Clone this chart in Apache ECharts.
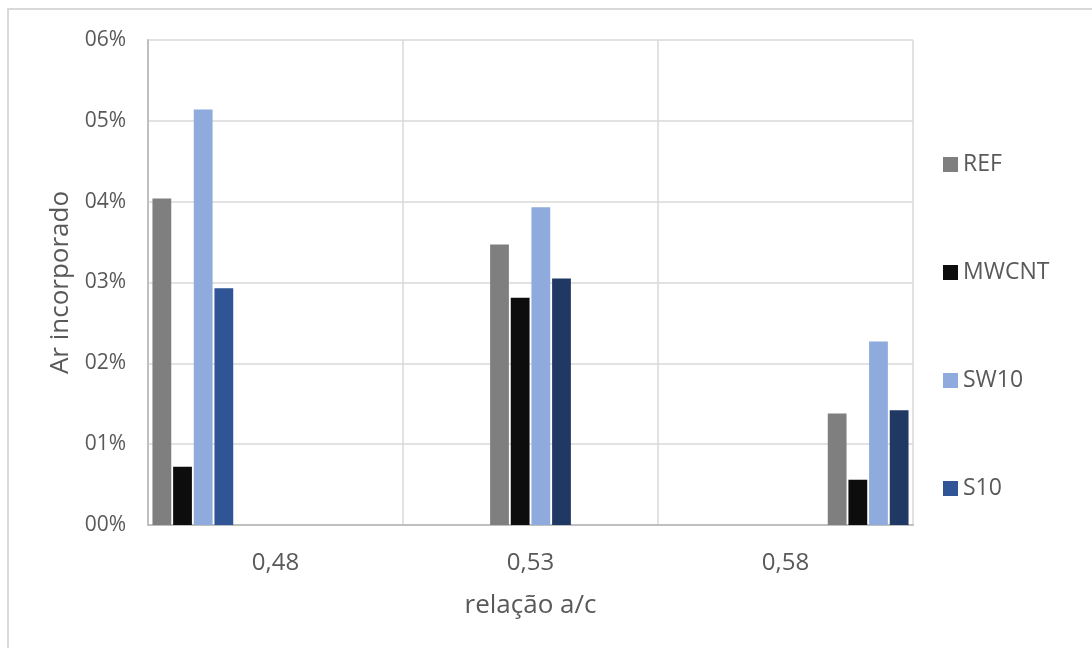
<!DOCTYPE html>
<html>
<head>
<meta charset="utf-8">
<script src="https://cdn.jsdelivr.net/npm/echarts@6/dist/echarts.min.js"></script>
<style>
html,body{margin:0;padding:0;background:#fff;}
#chart{width:1092px;height:648px;}
</style>
</head>
<body>
<div id="chart"></div>
<script>
// Data (values in %)
const categories = ['0,48', '0,53', '0,58'];
const seriesNames = ['REF', 'MWCNT', 'SW10', 'S10'];
const refValues = [4.04, 3.47, 1.38];
const mwcntValues = [0.72, 2.81, 0.56];
const sw10Values = [5.14, 3.93, 2.27];
const s10Values = [2.93, 3.05, 1.42];
const yTickLabels = ['00%', '01%', '02%', '03%', '04%', '05%', '06%'];

const allValues = [refValues, mwcntValues, sw10Values, s10Values];
const baseColors = ['#7F7F7F', '#0D0D0D', '#8FAADC', '#2F5597'];
const s10DarkColor = '#1F3864';
const textColor = '#595959';
const fontFamily = '"Open Sans", "Liberation Sans", sans-serif';

// Excel layout: each category holds 3 groups of 4 bars; only the group matching
// the category index has values.
const series = [];
for (let g = 0; g < categories.length; g++) {
  for (let s = 0; s < seriesNames.length; s++) {
    let color = baseColors[s];
    if (s === 3 && g > 0) color = s10DarkColor;
    series.push({
      type: 'bar',
      name: seriesNames[s],
      data: categories.map((c, i) => (i === g ? allValues[s][i] : '-')),
      itemStyle: { color: color },
      barCategoryGap: '3.5%',
      barGap: '10%',
      emphasis: { disabled: true },
      animation: false
    });
  }
}

const chart = echarts.init(document.getElementById('chart'));
chart.setOption({
  backgroundColor: '#ffffff',
  animation: false,
  textStyle: { fontFamily: fontFamily, color: textColor },
  graphic: [{
    type: 'rect',
    shape: { x: 8, y: 9, width: 1200, height: 1000 },
    style: { fill: 'none', stroke: '#D9D9D9', lineWidth: 2 },
    silent: true,
    z: -10
  }],
  grid: { left: 148, right: 179, top: 40, bottom: 123, containLabel: false },
  legend: {
    orient: 'vertical',
    left: 938,
    top: 148,
    icon: 'rect',
    itemWidth: 15,
    itemHeight: 15,
    itemGap: 85,
    data: seriesNames,
    textStyle: { fontFamily: fontFamily, color: textColor, fontSize: 23 },
    selectedMode: false
  },
  xAxis: {
    type: 'category',
    data: categories,
    name: 'relação a/c',
    nameLocation: 'middle',
    nameGap: 68,
    nameTextStyle: { fontFamily: fontFamily, color: textColor, fontSize: 26 },
    axisLine: { show: true, lineStyle: { color: '#BFBFBF', width: 2 } },
    axisTick: { show: false },
    axisLabel: { margin: 26, fontFamily: fontFamily, color: textColor, fontSize: 24 },
    splitLine: { show: true, lineStyle: { color: '#D9D9D9', width: 1.5 } }
  },
  yAxis: {
    type: 'value',
    min: 0,
    max: 6,
    interval: 1,
    name: 'Ar incorporado',
    nameLocation: 'middle',
    nameGap: 72,
    nameTextStyle: { fontFamily: fontFamily, color: textColor, fontSize: 26 },
    axisLine: { show: true, lineStyle: { color: '#BFBFBF', width: 2 } },
    axisTick: { show: false },
    axisLabel: {
      margin: 22,
      fontFamily: fontFamily,
      color: textColor,
      fontSize: 21,
      formatter: function (v) { return yTickLabels[Math.round(v)]; }
    },
    splitLine: { show: true, lineStyle: { color: '#D9D9D9', width: 1.5 } }
  },
  series: series
});
</script>
</body>
</html>
